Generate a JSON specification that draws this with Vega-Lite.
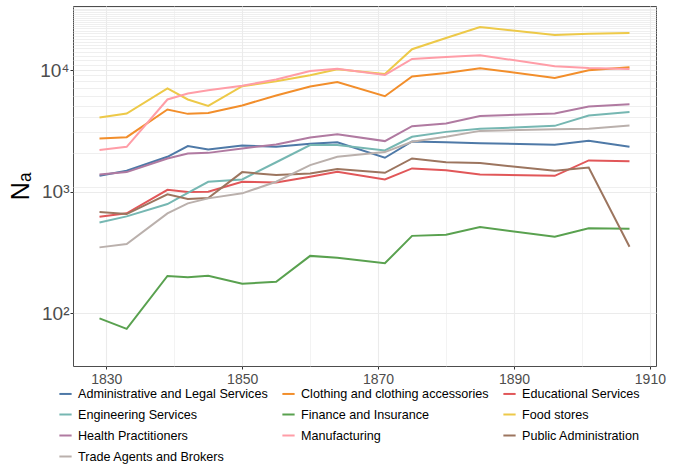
{
  "$schema": "https://vega.github.io/schema/vega-lite/v6.json",
  "autosize": {"type": "none"},
  "width": 583,
  "height": 360,
  "padding": {"left": 73, "top": 6, "right": 35, "bottom": 100},
  "background": "white",
  "config": {
    "font": "Liberation Sans",
    "view": {"stroke": "#4d4d4d", "strokeWidth": 1}
  },
  "data": {
    "values": [
      {"sector": "Administrative and Legal Services", "year": 1829, "n": 1354},
      {"sector": "Administrative and Legal Services", "year": 1833, "n": 1489},
      {"sector": "Administrative and Legal Services", "year": 1839, "n": 1941},
      {"sector": "Administrative and Legal Services", "year": 1842, "n": 2377},
      {"sector": "Administrative and Legal Services", "year": 1845, "n": 2230},
      {"sector": "Administrative and Legal Services", "year": 1850, "n": 2405},
      {"sector": "Administrative and Legal Services", "year": 1855, "n": 2345},
      {"sector": "Administrative and Legal Services", "year": 1860, "n": 2480},
      {"sector": "Administrative and Legal Services", "year": 1864, "n": 2550},
      {"sector": "Administrative and Legal Services", "year": 1871, "n": 1905},
      {"sector": "Administrative and Legal Services", "year": 1875, "n": 2594},
      {"sector": "Administrative and Legal Services", "year": 1880, "n": 2560},
      {"sector": "Administrative and Legal Services", "year": 1885, "n": 2512},
      {"sector": "Administrative and Legal Services", "year": 1896, "n": 2433},
      {"sector": "Administrative and Legal Services", "year": 1901, "n": 2626},
      {"sector": "Administrative and Legal Services", "year": 1907, "n": 2345},

      {"sector": "Clothing and clothing accessories", "year": 1829, "n": 2750},
      {"sector": "Clothing and clothing accessories", "year": 1833, "n": 2813},
      {"sector": "Clothing and clothing accessories", "year": 1839, "n": 4755},
      {"sector": "Clothing and clothing accessories", "year": 1842, "n": 4375},
      {"sector": "Clothing and clothing accessories", "year": 1845, "n": 4440},
      {"sector": "Clothing and clothing accessories", "year": 1850, "n": 5130},
      {"sector": "Clothing and clothing accessories", "year": 1855, "n": 6200},
      {"sector": "Clothing and clothing accessories", "year": 1860, "n": 7350},
      {"sector": "Clothing and clothing accessories", "year": 1864, "n": 8010},
      {"sector": "Clothing and clothing accessories", "year": 1871, "n": 6110},
      {"sector": "Clothing and clothing accessories", "year": 1875, "n": 8870},
      {"sector": "Clothing and clothing accessories", "year": 1880, "n": 9500},
      {"sector": "Clothing and clothing accessories", "year": 1885, "n": 10380},
      {"sector": "Clothing and clothing accessories", "year": 1896, "n": 8650},
      {"sector": "Clothing and clothing accessories", "year": 1901, "n": 10000},
      {"sector": "Clothing and clothing accessories", "year": 1907, "n": 10580},

      {"sector": "Educational Services", "year": 1829, "n": 623},
      {"sector": "Educational Services", "year": 1833, "n": 665},
      {"sector": "Educational Services", "year": 1839, "n": 1038},
      {"sector": "Educational Services", "year": 1842, "n": 994},
      {"sector": "Educational Services", "year": 1845, "n": 1000},
      {"sector": "Educational Services", "year": 1850, "n": 1209},
      {"sector": "Educational Services", "year": 1855, "n": 1193},
      {"sector": "Educational Services", "year": 1860, "n": 1327},
      {"sector": "Educational Services", "year": 1864, "n": 1459},
      {"sector": "Educational Services", "year": 1871, "n": 1265},
      {"sector": "Educational Services", "year": 1875, "n": 1557},
      {"sector": "Educational Services", "year": 1880, "n": 1507},
      {"sector": "Educational Services", "year": 1885, "n": 1390},
      {"sector": "Educational Services", "year": 1896, "n": 1354},
      {"sector": "Educational Services", "year": 1901, "n": 1811},
      {"sector": "Educational Services", "year": 1907, "n": 1786},

      {"sector": "Engineering Services", "year": 1829, "n": 560},
      {"sector": "Engineering Services", "year": 1833, "n": 628},
      {"sector": "Engineering Services", "year": 1839, "n": 793},
      {"sector": "Engineering Services", "year": 1842, "n": 982},
      {"sector": "Engineering Services", "year": 1845, "n": 1209},
      {"sector": "Engineering Services", "year": 1850, "n": 1264},
      {"sector": "Engineering Services", "year": 1855, "n": 1750},
      {"sector": "Engineering Services", "year": 1860, "n": 2421},
      {"sector": "Engineering Services", "year": 1864, "n": 2421},
      {"sector": "Engineering Services", "year": 1871, "n": 2190},
      {"sector": "Engineering Services", "year": 1875, "n": 2833},
      {"sector": "Engineering Services", "year": 1880, "n": 3111},
      {"sector": "Engineering Services", "year": 1885, "n": 3295},
      {"sector": "Engineering Services", "year": 1896, "n": 3486},
      {"sector": "Engineering Services", "year": 1901, "n": 4244},
      {"sector": "Engineering Services", "year": 1907, "n": 4540},

      {"sector": "Finance and Insurance", "year": 1829, "n": 91},
      {"sector": "Finance and Insurance", "year": 1833, "n": 74.5},
      {"sector": "Finance and Insurance", "year": 1839, "n": 203},
      {"sector": "Finance and Insurance", "year": 1842, "n": 198},
      {"sector": "Finance and Insurance", "year": 1845, "n": 204},
      {"sector": "Finance and Insurance", "year": 1850, "n": 175},
      {"sector": "Finance and Insurance", "year": 1855, "n": 182},
      {"sector": "Finance and Insurance", "year": 1860, "n": 297},
      {"sector": "Finance and Insurance", "year": 1864, "n": 287},
      {"sector": "Finance and Insurance", "year": 1871, "n": 258},
      {"sector": "Finance and Insurance", "year": 1875, "n": 434},
      {"sector": "Finance and Insurance", "year": 1880, "n": 443},
      {"sector": "Finance and Insurance", "year": 1885, "n": 513},
      {"sector": "Finance and Insurance", "year": 1896, "n": 427},
      {"sector": "Finance and Insurance", "year": 1901, "n": 501},
      {"sector": "Finance and Insurance", "year": 1907, "n": 497},

      {"sector": "Food stores", "year": 1829, "n": 4085},
      {"sector": "Food stores", "year": 1833, "n": 4406},
      {"sector": "Food stores", "year": 1839, "n": 7080},
      {"sector": "Food stores", "year": 1842, "n": 5745},
      {"sector": "Food stores", "year": 1845, "n": 5090},
      {"sector": "Food stores", "year": 1850, "n": 7395},
      {"sector": "Food stores", "year": 1855, "n": 8130},
      {"sector": "Food stores", "year": 1860, "n": 9100},
      {"sector": "Food stores", "year": 1864, "n": 10190},
      {"sector": "Food stores", "year": 1871, "n": 9300},
      {"sector": "Food stores", "year": 1875, "n": 14890},
      {"sector": "Food stores", "year": 1880, "n": 18400},
      {"sector": "Food stores", "year": 1885, "n": 22690},
      {"sector": "Food stores", "year": 1896, "n": 19510},
      {"sector": "Food stores", "year": 1901, "n": 20000},
      {"sector": "Food stores", "year": 1907, "n": 20230},

      {"sector": "Health Practitioners", "year": 1829, "n": 1390},
      {"sector": "Health Practitioners", "year": 1833, "n": 1452},
      {"sector": "Health Practitioners", "year": 1839, "n": 1879},
      {"sector": "Health Practitioners", "year": 1842, "n": 2068},
      {"sector": "Health Practitioners", "year": 1845, "n": 2090},
      {"sector": "Health Practitioners", "year": 1850, "n": 2274},
      {"sector": "Health Practitioners", "year": 1855, "n": 2451},
      {"sector": "Health Practitioners", "year": 1860, "n": 2797},
      {"sector": "Health Practitioners", "year": 1864, "n": 2979},
      {"sector": "Health Practitioners", "year": 1871, "n": 2612},
      {"sector": "Health Practitioners", "year": 1875, "n": 3467},
      {"sector": "Health Practitioners", "year": 1880, "n": 3648},
      {"sector": "Health Practitioners", "year": 1885, "n": 4205},
      {"sector": "Health Practitioners", "year": 1896, "n": 4405},
      {"sector": "Health Practitioners", "year": 1901, "n": 5035},
      {"sector": "Health Practitioners", "year": 1907, "n": 5260},

      {"sector": "Manufacturing", "year": 1829, "n": 2203},
      {"sector": "Manufacturing", "year": 1833, "n": 2345},
      {"sector": "Manufacturing", "year": 1839, "n": 5745},
      {"sector": "Manufacturing", "year": 1842, "n": 6440},
      {"sector": "Manufacturing", "year": 1845, "n": 6850},
      {"sector": "Manufacturing", "year": 1850, "n": 7440},
      {"sector": "Manufacturing", "year": 1855, "n": 8390},
      {"sector": "Manufacturing", "year": 1860, "n": 9850},
      {"sector": "Manufacturing", "year": 1864, "n": 10300},
      {"sector": "Manufacturing", "year": 1871, "n": 9150},
      {"sector": "Manufacturing", "year": 1875, "n": 12390},
      {"sector": "Manufacturing", "year": 1880, "n": 12860},
      {"sector": "Manufacturing", "year": 1885, "n": 13280},
      {"sector": "Manufacturing", "year": 1896, "n": 10790},
      {"sector": "Manufacturing", "year": 1901, "n": 10440},
      {"sector": "Manufacturing", "year": 1907, "n": 10250},

      {"sector": "Public Administration", "year": 1829, "n": 681},
      {"sector": "Public Administration", "year": 1833, "n": 656},
      {"sector": "Public Administration", "year": 1839, "n": 953},
      {"sector": "Public Administration", "year": 1842, "n": 872},
      {"sector": "Public Administration", "year": 1845, "n": 887},
      {"sector": "Public Administration", "year": 1850, "n": 1452},
      {"sector": "Public Administration", "year": 1855, "n": 1372},
      {"sector": "Public Administration", "year": 1860, "n": 1416},
      {"sector": "Public Administration", "year": 1864, "n": 1537},
      {"sector": "Public Administration", "year": 1871, "n": 1432},
      {"sector": "Public Administration", "year": 1875, "n": 1880},
      {"sector": "Public Administration", "year": 1880, "n": 1746},
      {"sector": "Public Administration", "year": 1885, "n": 1722},
      {"sector": "Public Administration", "year": 1896, "n": 1489},
      {"sector": "Public Administration", "year": 1901, "n": 1585},
      {"sector": "Public Administration", "year": 1907, "n": 353},

      {"sector": "Trade Agents and Brokers", "year": 1829, "n": 349},
      {"sector": "Trade Agents and Brokers", "year": 1833, "n": 372},
      {"sector": "Trade Agents and Brokers", "year": 1839, "n": 665},
      {"sector": "Trade Agents and Brokers", "year": 1842, "n": 803},
      {"sector": "Trade Agents and Brokers", "year": 1845, "n": 883},
      {"sector": "Trade Agents and Brokers", "year": 1850, "n": 971},
      {"sector": "Trade Agents and Brokers", "year": 1855, "n": 1209},
      {"sector": "Trade Agents and Brokers", "year": 1860, "n": 1656},
      {"sector": "Trade Agents and Brokers", "year": 1864, "n": 1940},
      {"sector": "Trade Agents and Brokers", "year": 1871, "n": 2120},
      {"sector": "Trade Agents and Brokers", "year": 1875, "n": 2576},
      {"sector": "Trade Agents and Brokers", "year": 1880, "n": 2833},
      {"sector": "Trade Agents and Brokers", "year": 1885, "n": 3170},
      {"sector": "Trade Agents and Brokers", "year": 1896, "n": 3273},
      {"sector": "Trade Agents and Brokers", "year": 1901, "n": 3296},
      {"sector": "Trade Agents and Brokers", "year": 1907, "n": 3515}
    ]
  },
  "mark": {"type": "line", "strokeWidth": 2, "clip": true},
  "encoding": {
    "x": {
      "field": "year",
      "type": "quantitative",
      "scale": {"domain": [1825.1, 1910.9], "nice": false, "zero": false},
      "axis": {
        "title": null,
        "values": [1830, 1840, 1850, 1860, 1870, 1880, 1890, 1900, 1910],
        "labelExpr": "datum.value % 20 == 10 ? datum.label : ''",
        "format": "d",
        "labelFontSize": 14,
        "labelColor": "#4d4d4d",
        "labelPadding": 3,
        "labelOverlap": false,
        "labelFlush": false,
        "tickSize": 3,
        "tickColor": "#333333",
        "tickOpacity": {"condition": {"test": "datum.value % 20 == 10", "value": 1}, "value": 0},
        "domain": false,
        "grid": true,
        "gridColor": "#ebebeb",
        "gridWidth": {"condition": {"test": "datum.value % 20 == 10", "value": 1.1}, "value": 0.6}
      }
    },
    "y": {
      "field": "n",
      "type": "quantitative",
      "scale": {"type": "log", "domain": [36.9, 33750], "nice": false},
      "axis": {
        "title": "Nₐ",
        "titleFontSize": 25,
        "titleFontWeight": "normal",
        "titleColor": "#000000",
        "titlePadding": 6,
        "values": [100, 1000, 1100, 2100, 3100, 4100, 5100, 6100, 7100, 8100, 9100, 10000, 11100, 12100, 13100, 14100, 15100, 16100, 17100, 18100, 19100, 20100, 21100, 22100, 23100, 24100, 25100, 26100, 27100, 28100, 29100, 30100, 31100, 32100, 33100],
        "labelExpr": "datum.value == 100 ? '10²' : datum.value == 1000 ? '10³' : datum.value == 10000 ? '10⁴' : ''",
        "labelFontSize": 19,
        "labelColor": "#4d4d4d",
        "labelPadding": 1,
        "labelOverlap": false,
        "labelFlush": false,
        "tickSize": 3,
        "tickColor": "#333333",
        "tickOpacity": {"condition": {"test": "datum.value == 100 || datum.value == 1000 || datum.value == 10000", "value": 1}, "value": 0},
        "domain": false,
        "grid": true,
        "gridColor": "#ebebeb",
        "gridWidth": {"condition": {"test": "datum.value == 100 || datum.value == 1000 || datum.value == 10000", "value": 1.1}, "value": 0.8}
      }
    },
    "color": {
      "field": "sector",
      "type": "nominal",
      "scale": {
        "domain": ["Administrative and Legal Services", "Clothing and clothing accessories", "Educational Services", "Engineering Services", "Finance and Insurance", "Food stores", "Health Practitioners", "Manufacturing", "Public Administration", "Trade Agents and Brokers"],
        "range": ["#4E79A7", "#F28E2B", "#E15759", "#76B7B2", "#59A14F", "#EDC948", "#B07AA1", "#FF9DA7", "#9C755F", "#BAB0AC"]
      },
      "legend": {
        "title": null,
        "orient": "none",
        "legendX": -15,
        "legendY": 380,
        "columns": 3,
        "direction": "horizontal",
        "columnPadding": 10,
        "rowPadding": 6,
        "symbolType": "stroke",
        "symbolSize": 150,
        "symbolStrokeWidth": 2,
        "labelFontSize": 12.6,
        "labelColor": "#000000",
        "labelLimit": 400,
        "labelOffset": 5,
        "padding": 0
      }
    }
  }
}
